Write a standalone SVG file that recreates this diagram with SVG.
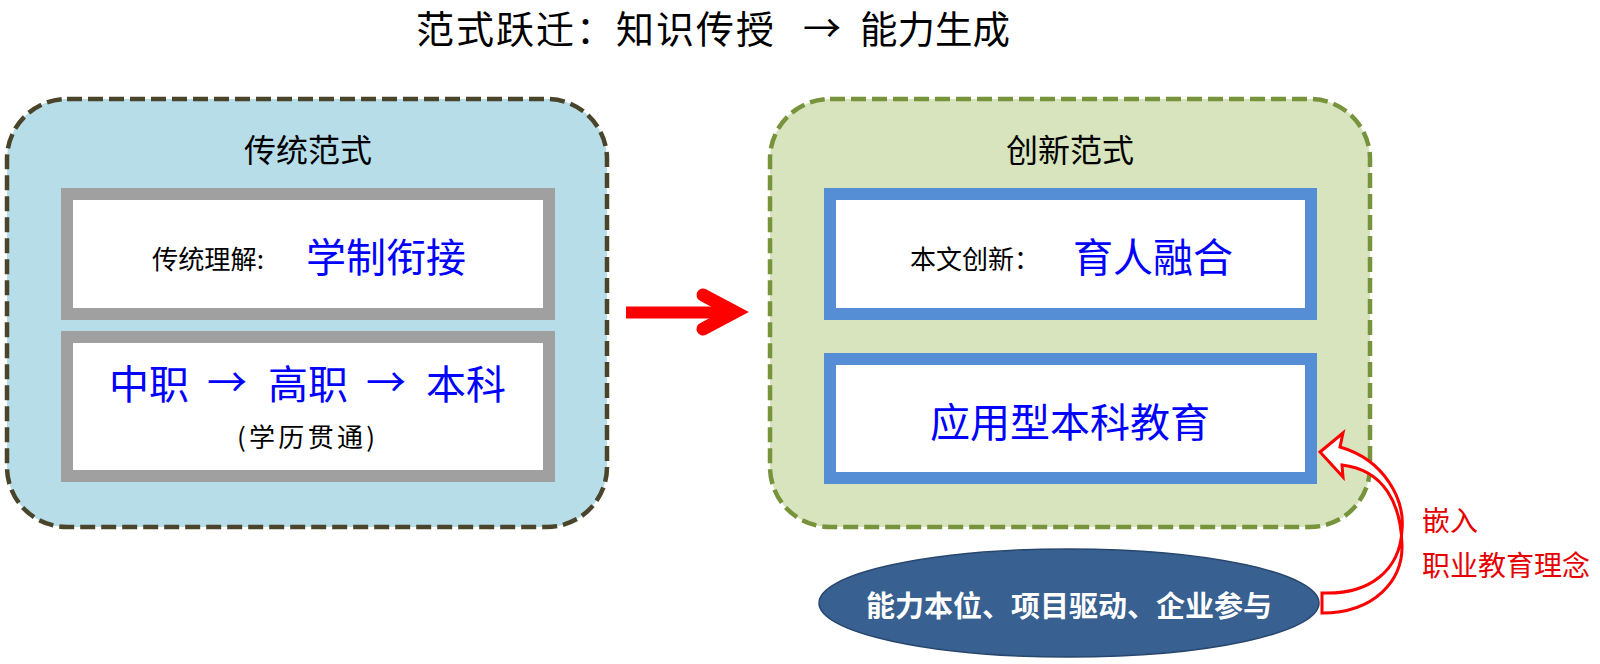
<svg xmlns="http://www.w3.org/2000/svg" width="1600" height="664" viewBox="0 0 1600 664">
<style>
text{font-family:"Noto Sans CJK SC","Noto Sans",sans-serif;dominant-baseline:central}
.title{font-size:38px;fill:#000}
.ctitle{font-size:32px;fill:#000;text-anchor:middle}
.lbl{font-size:26px;fill:#000}
.big{font-size:40px;fill:#0000ff}
.grayBox{fill:#fff;stroke:#a0a0a0;stroke-width:12}
.blueBox{fill:#fff;stroke:#558ed5;stroke-width:12}
.red{font-size:28px;fill:#e60000}
</style>
<rect width="1600" height="664" fill="#fff"/>
<g id="title">
<text class="title" x="416" y="26" textLength="358" lengthAdjust="spacing">范式跃迁：知识传授</text>
<text class="title" x="822" y="25" text-anchor="middle">→</text>
<text class="title" x="860" y="26" textLength="150" lengthAdjust="spacingAndGlyphs">能力生成</text>
</g>

<g id="traditional">
<rect x="7" y="99" width="600" height="428" rx="60" fill="#b7dde8" stroke="#4a452a" stroke-width="4.5" stroke-dasharray="15 6"/>
<text class="ctitle" x="308" y="148">传统范式</text>
</g>
<g id="trad-understanding">
<rect class="grayBox" x="67" y="194" width="482" height="120"/>
<text class="lbl" x="152" y="257" textLength="112" lengthAdjust="spacingAndGlyphs">传统理解:</text>
<text class="big" x="306" y="255">学制衔接</text>
</g>
<g id="trad-path">
<rect class="grayBox" x="67" y="337" width="482" height="139"/>
<text class="big" x="109" y="382">中职</text>
<text class="big" x="227" y="380" text-anchor="middle">→</text>
<text class="big" x="268" y="382">高职</text>
<text class="big" x="386" y="380" text-anchor="middle">→</text>
<text class="big" x="426" y="382">本科</text>
<text class="lbl" x="237" y="435" textLength="138" lengthAdjust="spacing">(学历贯通)</text>
</g>

<g id="innovative">
<rect x="770" y="99" width="600" height="428" rx="60" fill="#d7e4bd" stroke="#77933c" stroke-width="4.5" stroke-dasharray="15 6"/>
<text class="ctitle" x="1070" y="148">创新范式</text>
</g>
<g id="innov-fusion">
<rect class="blueBox" x="830" y="194" width="481" height="120"/>
<text class="lbl" x="910" y="257">本文创新：</text>
<text class="big" x="1073" y="255">育人融合</text>
</g>
<g id="innov-applied">
<rect class="blueBox" x="830" y="359" width="481" height="119"/>
<text class="big" x="1070" y="420" text-anchor="middle">应用型本科教育</text>
</g>

<g id="voc-ideas">
<ellipse cx="1069" cy="603" rx="250" ry="54" fill="#386090" stroke="#27476e" stroke-width="1.5"/>
<text x="1069" y="604" text-anchor="middle" style="font-size:29px;font-weight:bold;fill:#fff">能力本位、项目驱动、企业参与</text>
</g>

<g id="connectors">
<rect x="626" y="306.5" width="110" height="12" fill="#ff0000"/>
<path d="M703,295 L735,312 L703,329" fill="none" stroke="#ff0000" stroke-width="13" stroke-linecap="round" stroke-linejoin="miter"/>
<path d="M1320,452 L1343,433 L1340,447 C1385,460 1405,500 1402,530 C1400,570 1370,595 1322,593 L1322,613 C1375,613 1403,580 1402,545 C1401,505 1385,470 1342,465 L1343,477 Z" fill="#fff" stroke="#ff0000" stroke-width="3" stroke-linejoin="miter"/>
</g>
<g id="embed-label">
<text class="red" x="1422" y="519">嵌入</text>
<text class="red" x="1422" y="564">职业教育理念</text>
</g>
</svg>
